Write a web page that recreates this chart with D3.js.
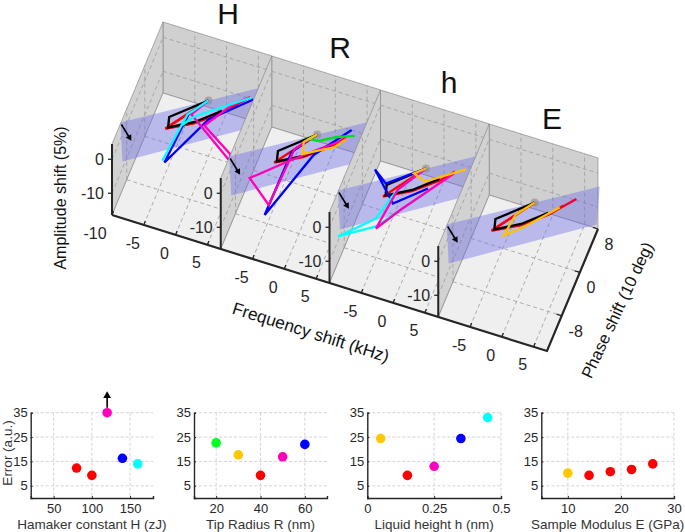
<!DOCTYPE html>
<html>
<head>
<meta charset="utf-8">
<script src="https://cdnjs.cloudflare.com/ajax/libs/d3/7.8.5/d3.min.js"></script>
<style>
    body { margin: 0; background: #fff; }
    text { font-family: "Liberation Sans", Arial, sans-serif; fill: #262626; }
</style>
</head>
<body>
<svg id="chart" width="685" height="532"></svg>
<script>
// 3D panels, curves are [freq, phase] in the amplitude = 0 plane
const panelNames = ['H', 'R', 'h', 'E'];
const freqTicks = [-5, 0, 5];
const phaseTicks = [-8, 0, 8];
const ampTicks = [0, -10];

const curveBlack = [[0, 0], [-4.5, -4.7], [-4.05, -6.45], [-0.65, -4.2], [2.5, -1.0]];
const curveRed = [[0, 0], [-4.35, -6.76], [-0.65, -4.4], [2.65, -1.25], [4.2, 1.0]];
const curveRedLong = [[0, 0], [-4.35, -6.76], [-0.65, -4.4], [2.65, -1.25], [5.6, 2.7]];

const panelH = [
    { color: '#0000ff', pts: [[0, 0], [-1.97, -3.3], [-2.51, -12.36], [1.11, -3.1], [6.2, 2.45]] },
    { color: '#ff00bb', pts: [[0, 0], [-1.56, -3.14], [6.41, -8.72], [6.2, -7.69], [0.89, -4.28], [3.49, 0.35], [5.17, 2.26]] },
    { color: '#00ffff', pts: [[0, 0], [-2.11, -3.35], [-2.91, -12.13], [-2.31, -5.45], [-1.02, -3.32], [5.81, 2.68]] }
];
const panelR = [
    { color: '#0000ff', pts: [[0, 0], [-2.53, -4.16], [-2.63, -15.8], [0.7, -3.52], [4.54, 2.49]] },
    { color: '#ff00bb', pts: [[0, 0], [-2.29, -3.51], [-2.65, -13.97], [-6.86, -10.53], [-2.64, -6.04], [0.83, -2.56], [4.37, 0.77]] },
    { color: '#00e020', pts: [[0, 0], [-0.92, -1.16], [0.59, -0.98], [2.86, 0.58], [5.31, 1.67]] },
    { color: '#ffc000', pts: [[0, 0], [-1.44, -1.91], [-0.89, -3.92], [3.17, -1.15], [4.37, 0.77]] }
];
const panelLh = [
    { color: '#0000ff', pts: [[0, 0], [-4.7, -4.49], [-7.04, -2.75], [-2.55, -7.39], [1.44, -3.16]] },
    { color: '#00ffff', pts: [[0, 0], [-2.84, -5.28], [-4.05, -10.7], [-8.29, -15.57], [-3.59, -12.0], [1.62, -3.65]] },
    { color: '#ff00bb', pts: [[0, 0], [-2.68, -4.85], [-3.47, -12.33], [-1.09, -7.96], [4.19, 0.6]] },
    { color: '#ffc000', pts: [[0, 0], [-1.38, -1.43], [0.62, -2.17], [5.63, 1.88]] }
];
const panelE = [
    { color: '#ffc000', pts: [[0, 0], [-1.94, -2.93], [-2.39, -6.96], [0.01, -4.43], [3.77, 0.45]] }
];
const panelCurves = [panelH, panelR, panelLh, panelE];
const panelHasLongRed = [true, false, false, true];

const planeCorners = [[-10.97, -8.07], [-8.42, -14.33], [9.91, -0.44], [8.12, 5.92]];
const arrowEnds = [[-10.71, -8.35], [-8.84, -10.06]];

// bottom scatter plots
const errTicks = [5, 15, 25, 35];
const hamakerX = [80, 100, 120, 140, 160];
const hamakerErr = [12.3, 9.3, 35, 16.3, 14];
const hamakerColors = ['#ff0000', '#ff0000', '#ff00bb', '#0000ff', '#00ffff'];
const radiusX = [20, 30, 40, 50, 60];
const radiusErr = [22.6, 17.7, 9.3, 16.9, 22];
const radiusColors = ['#00ff22', '#ffc800', '#ff0000', '#ff00bb', '#0000ff'];
const heightX = [0.05, 0.15, 0.25, 0.35, 0.45];
const heightErr = [24.4, 9.3, 13, 24.4, 33];
const heightColors = ['#ffc800', '#ff0000', '#ff00bb', '#0000ff', '#00ffff'];
const modulusX = [10, 14, 18, 22, 26];
const modulusErr = [10.2, 9.3, 10.8, 11.7, 14];
const modulusColors = ['#ffc800', '#ff0000', '#ff0000', '#ff0000', '#ff0000'];

const svg = d3.select('#chart');

// oblique projection, one scale per screen direction
const fX = d3.scaleLinear().domain([-10, 7.1]).range([0, 108.7]);
const fY = d3.scaleLinear().domain([-10, 7.1]).range([0, 33.9]);
const pX = d3.scaleLinear().domain([-14.5, 8]).range([0, 51]);
const pY = d3.scaleLinear().domain([-14.5, 8]).range([0, -122]);
const zY = d3.scaleLinear().domain([-16.4, 4.5]).range([0, -71]);
const panelX = d3.scaleLinear().domain([0, 4]).range([112, 547]);
const panelY = d3.scaleLinear().domain([0, 4]).range([215, 351]);

const fMin = -10, fMax = 7.1, pMin = -14.5, pMax = 8, zMin = -16.4, zMax = 4.5;

const project = (i, f, p, z) => [
    panelX(i) + fX(f) + pX(p),
    panelY(i) + fY(f) + pY(p) + zY(z)
];
const line3 = d3.line();
const quad = (i, pts) => line3(pts.map(d => project(i, d[0], d[1], d[2]))) + 'Z';

function dashed(g, i, a, b) {
    g.append('path')
        .attr('d', line3([project(i, ...a), project(i, ...b)]))
        .attr('fill', 'none')
        .attr('stroke', '#9a9a9a')
        .attr('stroke-width', 0.8)
        .attr('stroke-dasharray', '4,3');
}

panelNames.forEach((name, i) => {
    const g = svg.append('g');

    // back wall, side wall, floor
    g.append('path')
        .attr('d', quad(i, [[fMin, pMax, zMin], [fMax, pMax, zMin], [fMax, pMax, zMax], [fMin, pMax, zMax]]))
        .attr('fill', '#d0d0d0').attr('stroke', '#8a8a8a').attr('stroke-width', 0.7);
    g.append('path')
        .attr('d', quad(i, [[fMin, pMin, zMin], [fMin, pMax, zMin], [fMin, pMax, zMax], [fMin, pMin, zMax]]))
        .attr('fill', '#d2d2d2').attr('stroke', '#8a8a8a').attr('stroke-width', 0.7);
    g.append('path')
        .attr('d', quad(i, [[fMin, pMin, zMin], [fMax, pMin, zMin], [fMax, pMax, zMin], [fMin, pMax, zMin]]))
        .attr('fill', '#efefef').attr('stroke', '#8a8a8a').attr('stroke-width', 0.7);

    // grids
    freqTicks.forEach(f => {
        dashed(g, i, [f, pMin, zMin], [f, pMax, zMin]);
        dashed(g, i, [f, pMax, zMin], [f, pMax, zMax]);
    });
    phaseTicks.filter(p => p < pMax).forEach(p => {
        dashed(g, i, [fMin, p, zMin], [fMax, p, zMin]);
        dashed(g, i, [fMin, p, zMin], [fMin, p, zMax]);
    });
    ampTicks.forEach(z => {
        dashed(g, i, [fMin, pMax, z], [fMax, pMax, z]);
        dashed(g, i, [fMin, pMin, z], [fMin, pMax, z]);
    });

    // blue plane
    g.append('path')
        .attr('d', quad(i, planeCorners.map(d => [d[0], d[1], 0])))
        .attr('fill', '#6a6ae6')
        .attr('fill-opacity', 0.4);

    g.append('circle')
        .attr('cx', project(i, 0, 0, 0)[0])
        .attr('cy', project(i, 0, 0, 0)[1])
        .attr('r', 4)
        .attr('fill', '#8a8a8a')
        .attr('fill-opacity', 0.6);

    // curves
    const curveLine = d3.line().x(d => project(i, d[0], d[1], 0)[0]).y(d => project(i, d[0], d[1], 0)[1]);
    const drawCurve = (pts, color) => g.append('path')
        .attr('d', curveLine(pts))
        .attr('fill', 'none')
        .attr('stroke', color)
        .attr('stroke-width', 2.3)
        .attr('stroke-linejoin', 'miter');

    if (panelHasLongRed[i]) drawCurve(curveRedLong, '#f00030');
    drawCurve(curveRed, '#ff0000');
    drawCurve(curveBlack, '#000000');
    panelCurves[i].forEach(c => drawCurve(c.pts, c.color));

    // arrow
    const a0 = project(i, arrowEnds[0][0], arrowEnds[0][1], 0);
    const a1 = project(i, arrowEnds[1][0], arrowEnds[1][1], 0);
    const ang = Math.atan2(a1[1] - a0[1], a1[0] - a0[0]);
    g.append('path')
        .attr('d', line3([a0, a1]))
        .attr('stroke', '#000').attr('stroke-width', 1.6);
    g.append('path')
        .attr('d', d3.symbol(d3.symbolTriangle, 18)())
        .attr('transform', `translate(${a1[0]},${a1[1]}) rotate(${ang * 180 / Math.PI + 90})`)
        .attr('fill', '#000');

    // amplitude axis
    g.append('path')
        .attr('d', line3([project(i, fMin, pMin, zMin), project(i, fMin, pMin, zMax)]))
        .attr('stroke', '#262626').attr('stroke-width', 2);
    ampTicks.forEach(z => {
        const t = project(i, fMin, pMin, z);
        g.append('line')
            .attr('x1', t[0] - 4).attr('x2', t[0])
            .attr('y1', t[1]).attr('y2', t[1])
            .attr('stroke', '#262626').attr('stroke-width', 1.3);
        g.append('text')
            .attr('x', t[0] - 8).attr('y', t[1])
            .attr('dy', '0.36em')
            .attr('text-anchor', 'end')
            .attr('font-size', 16)
            .text(z);
    });
});

// floor axes, drawn last so no wall covers them
const axes = svg.append('g');
axes.append('path')
    .attr('d', line3([project(0, fMin, pMin, zMin), project(4, fMin, pMin, zMin), project(4, fMin, pMax, zMin)]))
    .attr('fill', 'none')
    .attr('stroke', '#262626')
    .attr('stroke-width', 2.2);

panelNames.forEach((name, i) => {
    (i === 0 ? [-10].concat(freqTicks) : freqTicks).forEach(f => {
        const t = project(i, f, pMin, zMin);
        const e = project(i, f, pMin + 0.7, zMin);
        axes.append('line')
            .attr('x1', t[0]).attr('y1', t[1])
            .attr('x2', e[0]).attr('y2', e[1])
            .attr('stroke', '#262626').attr('stroke-width', 1.3);
        axes.append('text')
            .attr('x', t[0] + (f === -10 ? -17 : -11)).attr('y', t[1] + 18)
            .attr('dy', '0.36em')
            .attr('text-anchor', 'middle')
            .attr('font-size', 16)
            .text(f);
    });
});

phaseTicks.forEach(p => {
    const t = project(4, fMin, p, zMin);
    const e = project(4, fMin - 0.8, p, zMin);
    axes.append('line')
        .attr('x1', t[0]).attr('y1', t[1])
        .attr('x2', e[0]).attr('y2', e[1])
        .attr('stroke', '#262626').attr('stroke-width', 1.3);
    axes.append('text')
        .attr('x', t[0] + (p < 0 ? 14 : 11)).attr('y', t[1] + 15)
        .attr('dy', '0.36em')
        .attr('text-anchor', 'middle')
        .attr('font-size', 16)
        .text(p);
});

// big panel letters
const nameX = [228, 340, 449, 552];
const nameY = [23.5, 58, 93, 129];
panelNames.forEach((name, i) => {
    svg.append('text')
        .attr('x', nameX[i]).attr('y', nameY[i])
        .attr('text-anchor', 'middle')
        .attr('font-size', 30)
        .style('fill', '#111')
        .text(name);
});

// axis titles
const rotated = (x, y, angle, size, label) => svg.append('text')
    .attr('transform', `translate(${x},${y}) rotate(${angle})`)
    .attr('text-anchor', 'middle')
    .attr('dy', '0.36em')
    .attr('font-size', size)
    .style('fill', '#111')
    .text(label);
rotated(60, 198, -90, 16, 'Amplitude shift (5%)');
rotated(311, 332, 17.5, 17.2, 'Frequency shift (kHz)');
rotated(617, 310, -65, 16.5, 'Phase shift (10 deg)');

// scatter plots
const scatterTop = 412.7;
const scatterBottom = 498;
const yErr = d3.scaleLinear().domain([0, 35]).range([scatterBottom, scatterTop]);

function scatter(opts) {
    const x = d3.scaleLinear().domain(opts.domain).range(opts.range);
    const g = svg.append('g');

    opts.ticks.forEach(t => {
        g.append('line')
            .attr('x1', x(t)).attr('x2', x(t))
            .attr('y1', scatterTop).attr('y2', scatterBottom)
            .attr('stroke', '#cfcfcf').attr('stroke-dasharray', '3,2').attr('stroke-width', 0.9);
    });
    errTicks.forEach(t => {
        g.append('line')
            .attr('x1', opts.range[0]).attr('x2', opts.range[1])
            .attr('y1', yErr(t)).attr('y2', yErr(t))
            .attr('stroke', '#cfcfcf').attr('stroke-dasharray', '3,2').attr('stroke-width', 0.9);
    });

    const xAxis = d3.axisBottom(x).tickValues(opts.ticks).tickSize(-2).tickPadding(6)
        .tickFormat(d => String(d));
    const yAxis = d3.axisLeft(yErr).tickValues(errTicks).tickSize(-2).tickPadding(3);

    const gx = g.append('g').attr('transform', `translate(0,${scatterBottom})`).call(xAxis);
    const gy = g.append('g').attr('transform', `translate(${opts.range[0]},0)`).call(yAxis);
    [gx, gy].forEach(a => {
        a.selectAll('path').attr('stroke', '#262626').attr('stroke-width', 1.4);
        a.selectAll('line').attr('stroke', '#262626');
        a.selectAll('text').attr('font-size', 13).attr('font-family', '"Liberation Sans"').style('fill', '#262626');
    });

    g.selectAll('circle.pt')
        .data(opts.xs)
        .join('circle')
        .attr('class', 'pt')
        .attr('cx', d => x(d))
        .attr('cy', (d, i) => yErr(opts.errs[i]))
        .attr('r', 4.8)
        .attr('fill', (d, i) => opts.colors[i]);

    g.append('text')
        .attr('x', (opts.range[0] + opts.range[1]) / 2 + opts.titleShift)
        .attr('y', 524)
        .attr('dy', '0.36em')
        .attr('text-anchor', 'middle')
        .attr('font-size', 13.5)
        .style('fill', '#333')
        .text(opts.title);

    return x;
}

const xHamaker = scatter({
    domain: [20, 180], range: [30.7, 153], ticks: [50, 100, 150],
    xs: hamakerX, errs: hamakerErr, colors: hamakerColors,
    title: 'Hamaker constant H (zJ)', titleShift: 0
});
scatter({
    domain: [10, 70], range: [194, 327], ticks: [20, 40, 60],
    xs: radiusX, errs: radiusErr, colors: radiusColors,
    title: 'Tip Radius R (nm)', titleShift: 0
});
scatter({
    domain: [0, 0.5], range: [367.3, 501], ticks: [0, 0.25, 0.5],
    xs: heightX, errs: heightErr, colors: heightColors,
    title: 'Liquid height h (nm)', titleShift: 0
});
scatter({
    domain: [5, 30], range: [541.3, 674], ticks: [10, 20, 30],
    xs: modulusX, errs: modulusErr, colors: modulusColors,
    title: 'Sample Modulus E (GPa)', titleShift: 0
});

// off-scale point arrow
svg.append('line')
    .attr('x1', xHamaker(120)).attr('x2', xHamaker(120))
    .attr('y1', yErr(35) - 5).attr('y2', yErr(35) - 17)
    .attr('stroke', '#000').attr('stroke-width', 1.6);
svg.append('path')
    .attr('d', d3.symbol(d3.symbolTriangle, 26)())
    .attr('transform', `translate(${xHamaker(120)},${yErr(35) - 17})`)
    .attr('fill', '#000');

svg.append('text')
    .attr('transform', 'translate(7,453) rotate(-90)')
    .attr('text-anchor', 'middle')
    .attr('dy', '0.36em')
    .attr('font-size', 13.5)
    .style('fill', '#333')
    .text('Error (a.u.)');
</script>
</body>
</html>
